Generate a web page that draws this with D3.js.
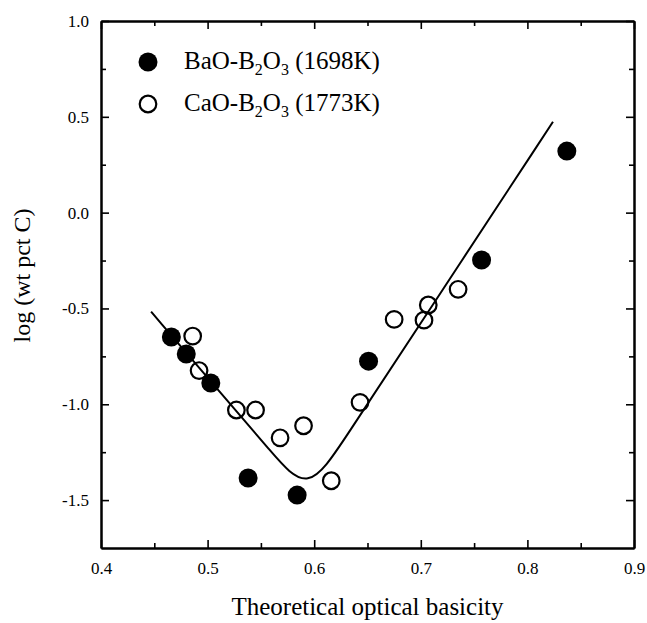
<!DOCTYPE html>
<html>
<head>
<meta charset="utf-8">
<script src="https://cdn.jsdelivr.net/npm/d3@7"></script>
<style>
  body { margin: 0; background: #fff; }
  svg text { font-family: "Liberation Serif", "Times New Roman", serif; fill: #000; }
</style>
</head>
<body>
<svg id="chart" width="647" height="623"></svg>
<script>
// BaO-B2O3 (1698K), filled circles
const baoX = [0.466, 0.480, 0.503, 0.538, 0.584, 0.651, 0.757, 0.837];
const baoY = [-0.649, -0.738, -0.889, -1.385, -1.474, -0.775, -0.247, 0.321];

// CaO-B2O3 (1773K), open circles
const caoX = [0.486, 0.492, 0.527, 0.545, 0.568, 0.590, 0.616, 0.643, 0.675, 0.703, 0.707, 0.735];
const caoY = [-0.644, -0.824, -1.030, -1.030, -1.175, -1.112, -1.399, -0.990, -0.557, -0.561, -0.482, -0.400];

// fitted V-shaped curve: control points (smoothed with a B-spline)
const fitX = [0.447, 0.510, 0.560, 0.594, 0.628, 0.700, 0.824];
const fitY = [-0.517, -0.926, -1.250, -1.471, -1.185, -0.576, 0.474];

const xMajor = [0.4, 0.5, 0.6, 0.7, 0.8, 0.9];
const xMinor = [0.45, 0.55, 0.65, 0.75, 0.85];
const yMajor = [1.0, 0.5, 0.0, -0.5, -1.0, -1.5];
const yMinor = [0.75, 0.25, -0.25, -0.75, -1.25];

const legendItems = [
  {name: "BaO-B", sub1: "2", mid: "O", sub2: "3", tail: " (1698K)", filled: true},
  {name: "CaO-B", sub1: "2", mid: "O", sub2: "3", tail: " (1773K)", filled: false}
];

const margin = {left: 101, right: 13, top: 21, bottom: 75};
const svg = d3.select("#chart");
const W = +svg.attr("width"), H = +svg.attr("height");
const iw = W - margin.left - margin.right;
const ih = H - margin.top - margin.bottom;

const x = d3.scaleLinear().domain([0.4, 0.9]).range([0, iw]);
const y = d3.scaleLinear().domain([-1.75, 1.0]).range([ih, 0]);

const g = svg.append("g").attr("transform", `translate(${margin.left},${margin.top})`);

const fmt = d => d3.format(".1f")(d).replace("\u2212", "-");

// axes with inward ticks
function styleAxis(sel) {
  sel.select(".domain").attr("stroke-width", 2);
  sel.selectAll(".tick line").attr("stroke-width", 1.6);
  sel.selectAll("text").style("font-size", "17px");
}

g.append("g").attr("transform", `translate(0,${ih})`)
  .call(d3.axisBottom(x).tickValues(xMajor).tickSizeInner(-8).tickSizeOuter(0).tickPadding(14).tickFormat(fmt))
  .call(styleAxis);
g.append("g").attr("transform", `translate(0,${ih})`)
  .call(d3.axisBottom(x).tickValues(xMinor).tickSizeInner(-5).tickSizeOuter(0).tickFormat(""))
  .call(styleAxis);
g.append("g")
  .call(d3.axisTop(x).tickValues(xMajor).tickSizeInner(-8).tickSizeOuter(0).tickFormat(""))
  .call(styleAxis);
g.append("g")
  .call(d3.axisTop(x).tickValues(xMinor).tickSizeInner(-5).tickSizeOuter(0).tickFormat(""))
  .call(styleAxis);

g.append("g")
  .call(d3.axisLeft(y).tickValues(yMajor).tickSizeInner(-8).tickSizeOuter(0).tickPadding(12).tickFormat(fmt))
  .call(styleAxis);
g.append("g")
  .call(d3.axisLeft(y).tickValues(yMinor).tickSizeInner(-5).tickSizeOuter(0).tickFormat(""))
  .call(styleAxis);
g.append("g").attr("transform", `translate(${iw},0)`)
  .call(d3.axisRight(y).tickValues(yMajor).tickSizeInner(-8).tickSizeOuter(0).tickFormat(""))
  .call(styleAxis);
g.append("g").attr("transform", `translate(${iw},0)`)
  .call(d3.axisRight(y).tickValues(yMinor).tickSizeInner(-5).tickSizeOuter(0).tickFormat(""))
  .call(styleAxis);

// fitted curve
const fitData = fitX.map((v, i) => [v, fitY[i]]);
g.append("path")
  .datum(fitData)
  .attr("fill", "none")
  .attr("stroke", "#000")
  .attr("stroke-width", 2)
  .attr("d", d3.line().x(d => x(d[0])).y(d => y(d[1])).curve(d3.curveBasis));

// points
g.selectAll(".cao")
  .data(caoX.map((v, i) => [v, caoY[i]]))
  .enter().append("circle")
  .attr("class", "cao")
  .attr("cx", d => x(d[0])).attr("cy", d => y(d[1]))
  .attr("r", 8.3)
  .attr("fill", "none").attr("stroke", "#000").attr("stroke-width", 2.2);

g.selectAll(".bao")
  .data(baoX.map((v, i) => [v, baoY[i]]))
  .enter().append("circle")
  .attr("class", "bao")
  .attr("cx", d => x(d[0])).attr("cy", d => y(d[1]))
  .attr("r", 9.5)
  .attr("fill", "#000");

// legend
legendItems.forEach((it, i) => {
  const ly = 41 + i * 42;
  if (it.filled) {
    g.append("circle").attr("cx", 47).attr("cy", ly).attr("r", 9.5).attr("fill", "#000");
  } else {
    g.append("circle").attr("cx", 47).attr("cy", ly).attr("r", 8.3)
      .attr("fill", "none").attr("stroke", "#000").attr("stroke-width", 2.2);
  }
  const t = g.append("text").attr("x", 83).attr("y", ly + 7).style("font-size", "25px");
  t.append("tspan").text(it.name);
  t.append("tspan").text(it.sub1).attr("dy", 6).style("font-size", "16px");
  t.append("tspan").text(it.mid).attr("dy", -6);
  t.append("tspan").text(it.sub2).attr("dy", 6).style("font-size", "16px");
  t.append("tspan").text(it.tail).attr("dy", -6);
});

// axis titles
svg.append("text")
  .attr("x", margin.left + iw / 2).attr("y", 615)
  .attr("text-anchor", "middle")
  .style("font-size", "25px")
  .text("Theoretical optical basicity");

svg.append("text")
  .attr("transform", `translate(30,${margin.top + ih / 2 - 9}) rotate(-90)`)
  .attr("text-anchor", "middle")
  .style("font-size", "24px")
  .text("log (wt pct C)");
</script>
</body>
</html>
